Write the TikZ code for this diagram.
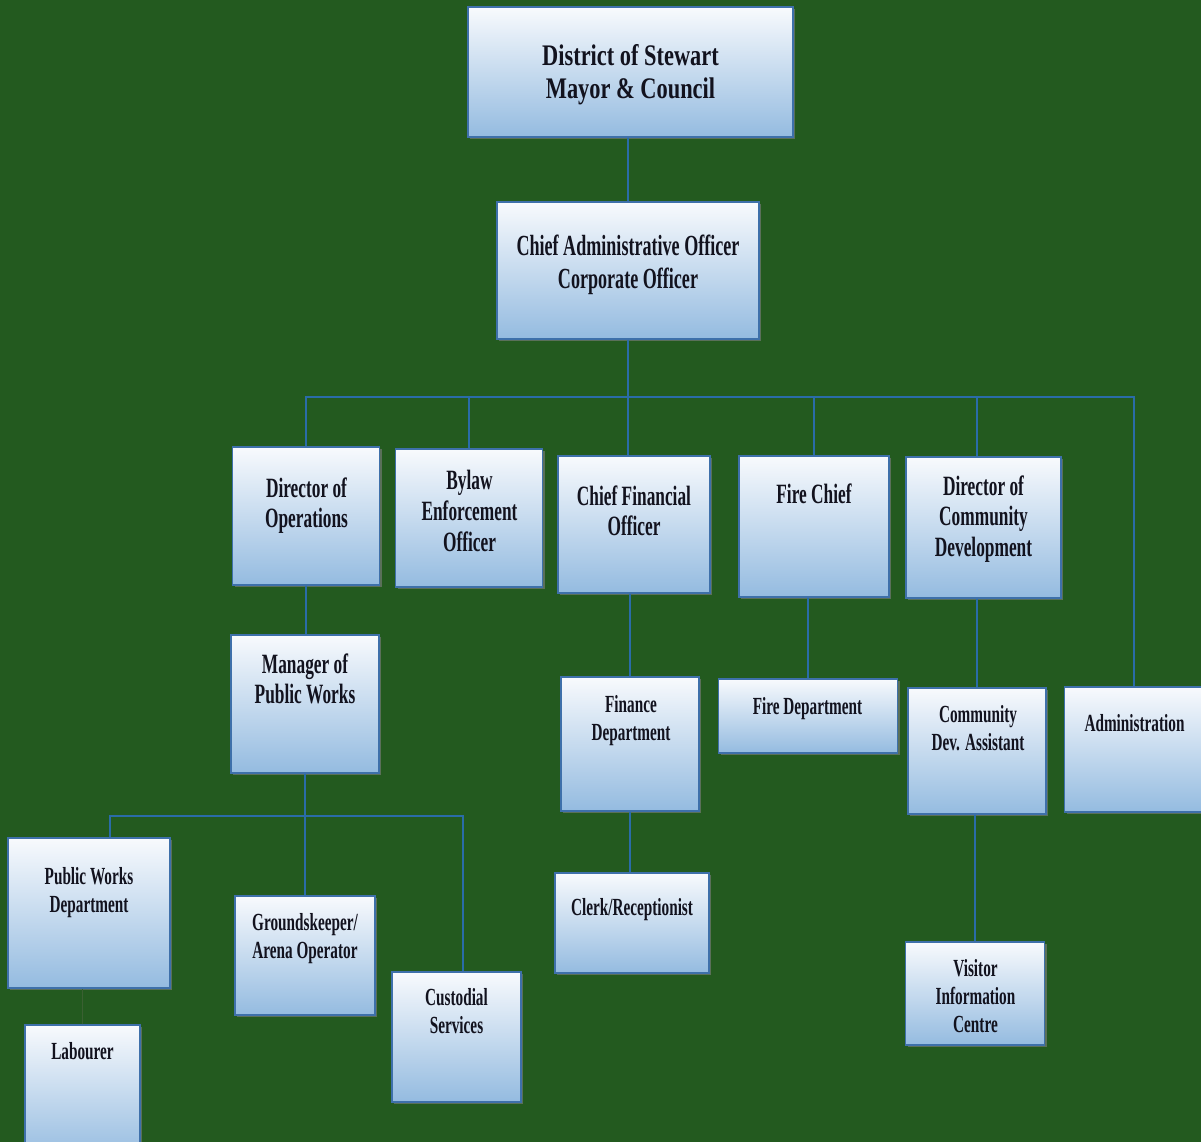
\documentclass[tikz,border=0pt]{standalone}
\usepackage{fontspec}
\setmainfont{Liberation Serif}[FakeStretch=0.62]
\newfontfamily\mayorfont{Liberation Serif}[FakeStretch=0.75]
\usetikzlibrary{shadows}
\definecolor{bggreen}{RGB}{35,90,31}
\definecolor{boxtop}{RGB}{248,250,253}
\definecolor{boxmid}{RGB}{218,231,244}
\definecolor{boxbot}{RGB}{148,187,224}
\definecolor{boxline}{RGB}{62,112,170}
\definecolor{linkblue}{RGB}{42,108,168}
\definecolor{linkdim}{RGB}{58,96,50}
\definecolor{inkdark}{RGB}{18,18,30}
\tikzset{
  orgbox/.style={draw=boxline,line width=0.6pt,inner sep=0pt,
    top color=boxtop,middle color=boxmid,bottom color=boxbot,
    drop shadow={shadow xshift=1.2pt,shadow yshift=-1.4pt,opacity=0.6}},
  boxsize/.style 2 args={minimum width=#1*0.02cm,minimum height=#2*0.02cm},
  lbl/.style={anchor=north,align=center,inner sep=0pt,text=inkdark},
  toptxt/.style={lbl,font=\mayorfont\bfseries\fontsize{17}{18.7}\selectfont},
  caotxt/.style={lbl,font=\bfseries\fontsize{16.6}{18.7}\selectfont},
  midtxt/.style={lbl,font=\bfseries\fontsize{15.9}{17.6}\selectfont},
  lowtxt/.style={lbl,font=\bfseries\fontsize{14}{15.9}\selectfont},
  link/.style={draw=linkblue,line width=1.1pt},
  faintlink/.style={draw=linkdim,line width=0.8pt}
}
\begin{document}
\begin{tikzpicture}[x=0.02cm,y=-0.02cm]
\fill[bggreen] (0,0) rectangle (1201,1142);
\useasboundingbox (0,0) rectangle (1201,1142);

% boxes
\node[orgbox,boxsize={325}{130}] (mayor) at (630.5,72) {};
\node[orgbox,boxsize={262}{137}] (cao) at (628,270.5) {};
\node[orgbox,boxsize={147}{138}] (dirops) at (306,516) {};
\node[orgbox,boxsize={147}{138}] (bylaw) at (469,518) {};
\node[orgbox,boxsize={152}{137}] (cfo) at (634,524.5) {};
\node[orgbox,boxsize={150}{141}] (firechief) at (814,526.5) {};
\node[orgbox,boxsize={155}{141}] (dircomm) at (983.5,527.5) {};
\node[orgbox,boxsize={148}{138}] (mgrpw) at (305,704) {};
\node[orgbox,boxsize={138}{134}] (finance) at (630,744) {};
\node[orgbox,boxsize={179}{74}] (firedept) at (808,716) {};
\node[orgbox,boxsize={138}{126}] (commdev) at (977,751) {};
\node[orgbox,boxsize={139}{125}] (admin) at (1134,749.5) {};
\node[orgbox,boxsize={162}{150}] (pwdept) at (89,913) {};
\node[orgbox,boxsize={140}{119}] (grounds) at (305,955.5) {};
\node[orgbox,boxsize={129}{130}] (custodial) at (456.5,1037) {};
\node[orgbox,boxsize={154}{100}] (clerk) at (632,923) {};
\node[orgbox,boxsize={115}{135}] (labourer) at (82.5,1092.5) {};
\node[orgbox,boxsize={139}{103}] (visitor) at (975,993.5) {};

% texts
\node[toptxt] (mayor-t) at (630.5,44) {District of Stewart\\Mayor \& Council};
\node[caotxt] (cao-t) at (628,235) {Chief Administrative Officer\\Corporate Officer};
\node[midtxt] (dirops-t) at (306.5,477) {Director of\\Operations};
\node[midtxt] (bylaw-t) at (469.5,470) {Bylaw\\Enforcement\\Officer};
\node[midtxt] (cfo-t) at (634,485) {Chief Financial\\Officer};
\node[midtxt] (firechief-t) at (814,483) {Fire Chief};
\node[midtxt] (dircomm-t) at (983.5,475) {Director of\\Community\\Development};
\node[midtxt] (mgrpw-t) at (305,653) {Manager of\\Public Works};
\node[lowtxt] (finance-t) at (631,695) {Finance\\Department};
\node[lowtxt] (firedept-t) at (807.5,697) {Fire Department};
\node[lowtxt] (commdev-t) at (978,705) {Community\\Dev. Assistant};
\node[lowtxt] (admin-t) at (1134.5,714) {Administration};
\node[lowtxt] (pwdept-t) at (89,867) {Public Works\\Department};
\node[lowtxt] (grounds-t) at (305,913) {Groundskeeper/\\Arena Operator};
\node[lowtxt] (custodial-t) at (456.5,988) {Custodial\\Services};
\node[lowtxt] (clerk-t) at (632,898) {Clerk/Receptionist};
\node[lowtxt] (labourer-t) at (82.5,1042) {Labourer};
\node[lowtxt] (visitor-t) at (975.5,959) {Visitor\\Information\\Centre};

% connectors
\coordinate (bus) at (630,397);
\coordinate (bus2w) at (110,816);
\coordinate (bus2e) at (463,816);
\draw[link] (mayor.south -| cao.north) -- (cao.north);
\draw[link] (cao.south) -- (cao.south |- cfo.north);
\draw[link] (dirops.north) |- (bus) -| (admin.north);
\draw[link] (bylaw.north) -- (bylaw.north |- bus);
\draw[link] (firechief.north) -- (firechief.north |- bus);
\draw[link] (dircomm.north -| commdev.north) -- (commdev.north |- bus);
\draw[link] (dirops.south) -- (dirops.south |- mgrpw.north);
\draw[link] (mgrpw.south) -- (grounds.north);
\draw[link] (bus2w |- pwdept.north) -- (bus2w) -- (bus2e) -- (bus2e |- custodial.north);
\draw[link] (finance.north) -- (finance.north |- cfo.south);
\draw[link] (finance.south) -- (finance.south |- clerk.north);
\draw[link] (firedept.north) -- (firedept.north |- firechief.south);
\draw[link] (dircomm.south -| commdev.north) -- (commdev.north);
\draw[link] (visitor.north) -- (visitor.north |- commdev.south);
\draw[faintlink] (labourer.north) -- (labourer.north |- pwdept.south);
\end{tikzpicture}
\end{document}
